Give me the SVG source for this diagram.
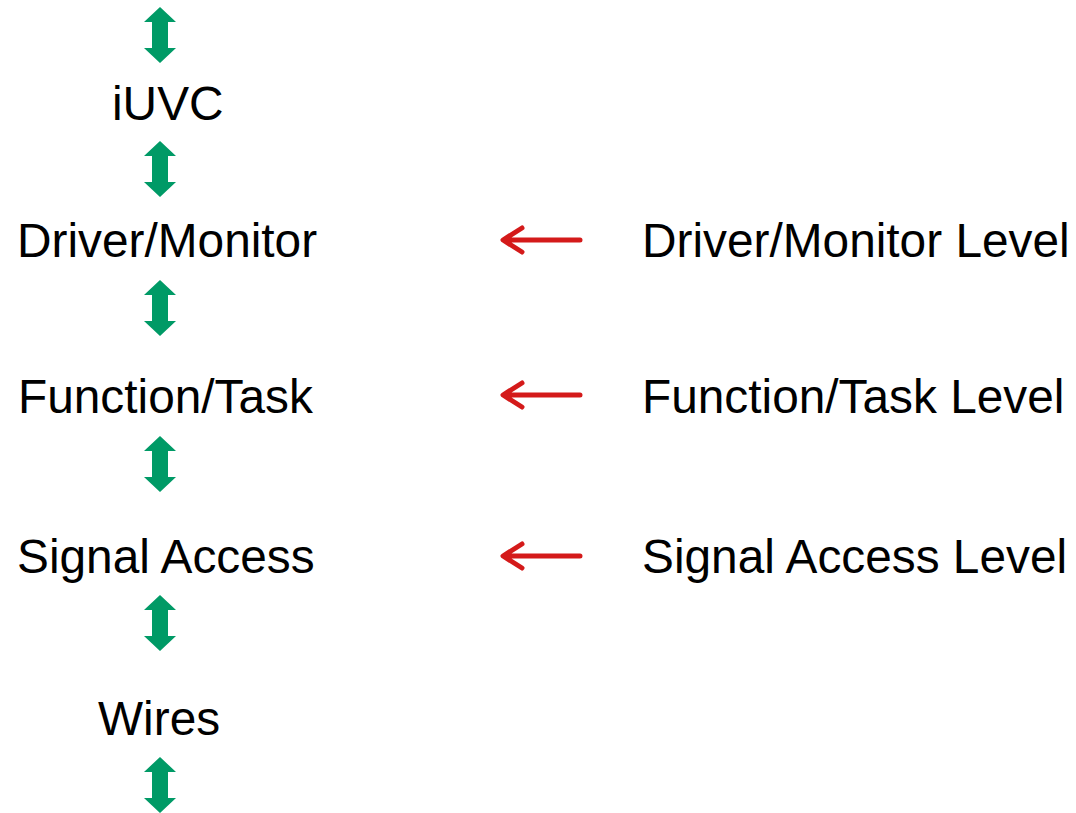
<svg xmlns="http://www.w3.org/2000/svg" width="1076" height="813" viewBox="0 0 1076 813">
<defs>
<style>
text{font-family:"Liberation Sans",Arial,sans-serif;font-size:47.8px;fill:#000}
.g{fill:#009a66}
.r{fill:none;stroke:#d41a1a;stroke-width:5;stroke-linecap:round;stroke-linejoin:round}
</style>
<path id="dbl" d="M0,0 L16,15 L8,15 L8,41 L16,41 L0,56 L-16,41 L-8,41 L-8,15 L-16,15 Z"/>
</defs>
<rect width="1076" height="813" fill="#fff"/>
<g id="connectors">
<use href="#dbl" class="g" x="160" y="7"/>
<use href="#dbl" class="g" x="160" y="141"/>
<use href="#dbl" class="g" x="160" y="280"/>
<use href="#dbl" class="g" x="160" y="436"/>
<use href="#dbl" class="g" x="160" y="595"/>
<use href="#dbl" class="g" x="160" y="757"/>
<path class="r" d="M580,240 H505 M522,228 L503,240 L522,252"/>
<path class="r" d="M580,395 H505 M522,383 L503,395 L522,407"/>
<path class="r" d="M580,556 H505 M522,544 L503,556 L522,568"/>
</g>
<g id="iuvc"><text x="112" y="120">iUVC</text></g>
<g id="driver"><text x="17" y="257">Driver/Monitor</text></g>
<g id="function"><text x="18" y="413">Function/Task</text></g>
<g id="signal"><text x="17" y="573">Signal Access</text></g>
<g id="wires"><text x="98" y="735">Wires</text></g>
<g id="driver-level"><text x="642" y="257">Driver/Monitor Level</text></g>
<g id="function-level"><text x="642" y="413">Function/Task Level</text></g>
<g id="signal-level"><text x="642" y="573">Signal Access Level</text></g>
</svg>
